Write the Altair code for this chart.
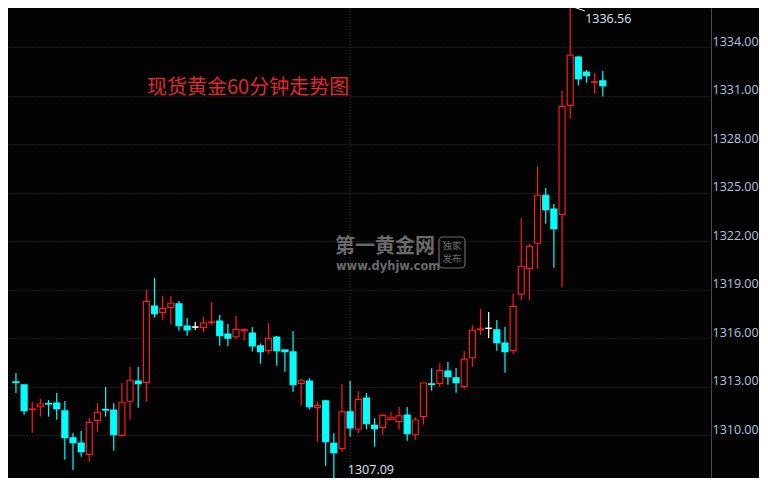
import altair as alt
import pandas as pd

# ---- data (60-minute spot gold candles) ----
opens = [1313.30, 1313.12, 1311.60, 1311.77, 1311.97, 1312.00, 1311.51, 1309.84, 1309.53, 1308.83,
         1310.93, 1311.60, 1311.57, 1310.00, 1312.11, 1313.36, 1313.28, 1318.00, 1317.61, 1317.92,
         1318.13, 1316.76, 1316.70, 1316.66, 1316.98, 1317.07, 1316.27, 1316.10, 1316.50, 1316.33,
         1315.53, 1315.24, 1316.08, 1315.28, 1315.16, 1313.22, 1313.36, 1311.71, 1312.13, 1309.51,
         1309.20, 1311.45, 1310.38, 1312.31, 1310.62, 1310.50, 1310.99, 1310.85, 1311.26, 1310.04,
         1311.16, 1313.18, 1313.22, 1313.98, 1313.55, 1313.01, 1314.80, 1316.55, 1316.62, 1316.52,
         1315.71, 1315.24, 1318.73, 1320.33, 1321.88, 1324.85, 1324.00, 1323.67, 1330.41, 1333.40,
         1332.47, 1331.84, 1331.92]
highs = [1313.86, 1313.12, 1312.06, 1312.25, 1312.19, 1312.62, 1312.13, 1310.15, 1310.27, 1311.07,
         1312.00, 1312.99, 1311.98, 1313.24, 1314.23, 1314.23, 1318.99, 1319.73, 1318.62, 1318.62,
         1318.31, 1317.26, 1317.01, 1317.32, 1318.25, 1317.44, 1316.89, 1317.38, 1316.62, 1316.70,
         1315.69, 1316.95, 1316.15, 1315.28, 1316.45, 1313.49, 1313.53, 1312.08, 1312.19, 1310.13,
         1313.18, 1313.36, 1312.73, 1312.62, 1311.06, 1311.32, 1311.45, 1311.76, 1311.76, 1311.12,
         1313.28, 1314.15, 1314.46, 1314.54, 1314.17, 1315.22, 1316.81, 1317.82, 1317.63, 1317.14,
         1316.70, 1318.79, 1323.44, 1321.85, 1326.62, 1325.30, 1324.31, 1331.32, 1336.56, 1333.46,
         1332.60, 1332.41, 1332.53]
lows = [1312.62, 1311.28, 1310.17, 1311.16, 1311.16, 1310.97, 1308.50, 1307.86, 1308.68, 1308.37,
        1310.23, 1311.16, 1309.05, 1309.92, 1310.97, 1311.71, 1312.08, 1317.28, 1317.15, 1316.85,
        1316.47, 1316.16, 1316.52, 1316.39, 1316.83, 1315.55, 1315.53, 1315.96, 1315.86, 1315.18,
        1314.43, 1315.05, 1314.31, 1313.94, 1312.70, 1311.84, 1311.60, 1309.61, 1308.12, 1307.09,
        1308.99, 1309.92, 1310.13, 1310.38, 1309.30, 1310.02, 1310.99, 1310.35, 1309.67, 1309.73,
        1310.66, 1312.76, 1313.01, 1313.13, 1312.64, 1312.87, 1314.25, 1316.21, 1316.02, 1315.24,
        1313.88, 1315.05, 1318.37, 1318.37, 1320.31, 1323.09, 1320.37, 1319.16, 1329.58, 1331.63,
        1331.81, 1331.13, 1330.95]
closes = [1313.27, 1311.53, 1311.63, 1311.94, 1311.94, 1311.65, 1309.86, 1309.55, 1308.99, 1310.81,
          1311.43, 1311.57, 1310.04, 1312.05, 1313.41, 1313.20, 1318.29, 1317.53, 1317.86, 1318.17,
          1316.78, 1316.52, 1316.70, 1316.95, 1317.01, 1316.16, 1316.02, 1316.56, 1316.53, 1315.53,
          1315.18, 1316.00, 1315.24, 1315.18, 1313.13, 1313.41, 1311.77, 1311.86, 1309.61, 1308.93,
          1311.45, 1310.47, 1312.23, 1310.72, 1310.41, 1311.24, 1311.12, 1311.20, 1310.10, 1310.95,
          1313.24, 1313.15, 1314.02, 1313.63, 1313.26, 1314.71, 1316.50, 1316.58, 1316.62, 1315.73,
          1315.18, 1317.98, 1320.46, 1321.69, 1324.85, 1323.96, 1322.78, 1330.35, 1333.51, 1332.06,
          1332.24, 1331.86, 1331.63]
separator_bars = [42]
y_ticks = [1310, 1313, 1316, 1319, 1322, 1325, 1328, 1331, 1334]
title_text = "现货黄金60分钟走势图"

# ---- frame ----
n = len(opens)
df = pd.DataFrame({"i": list(range(1, n + 1)), "open": opens, "high": highs,
                   "low": lows, "close": closes})
df["dir"] = ["up" if c > o else ("down" if c < o else "flat") for o, c in zip(opens, closes)]

hi_idx = int(df["high"].idxmax())
lo_idx = int(df["low"].idxmin())
ann = pd.DataFrame({
    "i": [df.loc[hi_idx, "i"], df.loc[lo_idx, "i"]],
    "v": [df.loc[hi_idx, "high"], df.loc[lo_idx, "low"]],
    "kind": ["hi", "lo"],
})
ann["label"] = ann["v"].map(lambda v: f"{v:.2f}")
ann["i2"] = ann["i"] + 1.8
ann["v2"] = [ann.loc[0, "v"] - 0.31, ann.loc[1, "v"]]

x_scale = alt.Scale(domain=[0.637, 85.664], nice=False, zero=False)
y_scale = alt.Scale(domain=[1307.364, 1336.43], nice=False, zero=False)
dir_dom = ["up", "down", "flat"]
line_col = alt.Scale(domain=dir_dom, range=["#ff1a1a", "#00ffff", "#ffffff"])
fill_col = alt.Scale(domain=dir_dom, range=["#000000", "#00ffff", "#ffffff"])

X = alt.X("i:Q", scale=x_scale, axis=None)

sep = alt.Chart(pd.DataFrame({"i": separator_bars})).mark_rule(
    color="#3d3d3d", strokeDash=[1, 2], strokeWidth=1
).encode(x=X)

wicks = alt.Chart(df).mark_rule(strokeWidth=1.2).encode(
    x=X,
    y=alt.Y("low:Q", scale=y_scale, title=None,
            axis=alt.Axis(orient="right", values=y_ticks, format=".2f", ticks=False,
                          domain=True, domainColor="#4a4a4a", domainWidth=1,
                          grid=True, gridColor="#363636", gridDash=[1, 2], gridWidth=1,
                          labelColor="#b0c4e0", labelFont="Open Sans", labelFontSize=12.5,
                          labelPadding=1, labelBaseline="alphabetic", labelOffset=-2)),
    y2="high:Q",
    color=alt.Color("dir:N", scale=line_col, legend=None),
)

bodies = alt.Chart(df).mark_bar(size=6, strokeWidth=1.2).encode(
    x=X,
    y=alt.Y("open:Q", scale=y_scale),
    y2="close:Q",
    fill=alt.Fill("dir:N", scale=fill_col, legend=None),
    stroke=alt.Stroke("dir:N", scale=line_col, legend=None),
)

dojis = alt.Chart(df).transform_filter(
    "abs(datum.close - datum.open) < 0.1"
).mark_tick(orient="horizontal", size=7, thickness=1.2).encode(
    x=X,
    y=alt.Y("open:Q", scale=y_scale),
    color=alt.Color("dir:N", scale=line_col, legend=None),
)

ann_lines = alt.Chart(ann).mark_rule(color="#ffffff", strokeWidth=1).encode(
    x=X, x2="i2:Q", y=alt.Y("v:Q", scale=y_scale), y2="v2:Q"
)
ann_hi = alt.Chart(ann[ann["kind"] == "hi"]).mark_text(
    align="left", baseline="middle", dx=15, dy=13, font="Open Sans", fontSize=12.5, color="#dce6f2"
).encode(x=X, y=alt.Y("v:Q", scale=y_scale), text="label:N")
ann_lo = alt.Chart(ann[ann["kind"] == "lo"]).mark_text(
    align="left", baseline="middle", dx=14, dy=-12, font="Open Sans", fontSize=12.5, color="#dce6f2"
).encode(x=X, y=alt.Y("v:Q", scale=y_scale), text="label:N")

title = alt.Chart(pd.DataFrame({"t": [title_text]})).mark_text(
    align="left", baseline="middle", font="Noto Sans CJK SC", fontSize=20, color="#e0282a"
).encode(x=alt.value(139), y=alt.value(80), text="t:N")

wm1 = alt.Chart(pd.DataFrame({"t": ["第一黄金网"]})).mark_text(
    align="left", baseline="middle", font="Noto Sans CJK SC", fontSize=20, fontWeight="bold",
    color="#6a6a6a"
).encode(x=alt.value(327), y=alt.value(239), text="t:N")
wm2 = alt.Chart(pd.DataFrame({"t": ["www.dyhjw.com"]})).mark_text(
    align="left", baseline="middle", font="DejaVu Sans", fontSize=11.5, fontWeight="bold",
    color="#6a6a6a"
).encode(x=alt.value(328), y=alt.value(259), text="t:N")
wm3 = alt.Chart(pd.DataFrame({"t": ["独家", "发布"], "yy": [238, 251]})).mark_text(
    align="center", baseline="middle", font="Noto Sans CJK SC", fontSize=9.5, color="#6a6a6a"
).encode(x=alt.value(444), y=alt.Y("yy:Q", scale=None), text="t:N")
wm_box = alt.Chart(pd.DataFrame({"a": [0]})).mark_rect(
    fill=None, stroke="#6a6a6a", strokeWidth=1.2, cornerRadius=4
).encode(x=alt.value(431), x2=alt.value(457), y=alt.value(229), y2=alt.value(260))

chart = alt.layer(
    sep, wicks, bodies, dojis, ann_lines, ann_hi, ann_lo, title, wm1, wm2, wm_box, wm3
).properties(
    width=703, height=470,
    background="#030303",
    padding={"left": 0, "top": 0, "right": 48, "bottom": 0},
    autosize=alt.AutoSizeParams(type="none"),
).configure_view(stroke=None)

chart.save("out.html", embed_options={"renderer": "svg", "actions": False})
